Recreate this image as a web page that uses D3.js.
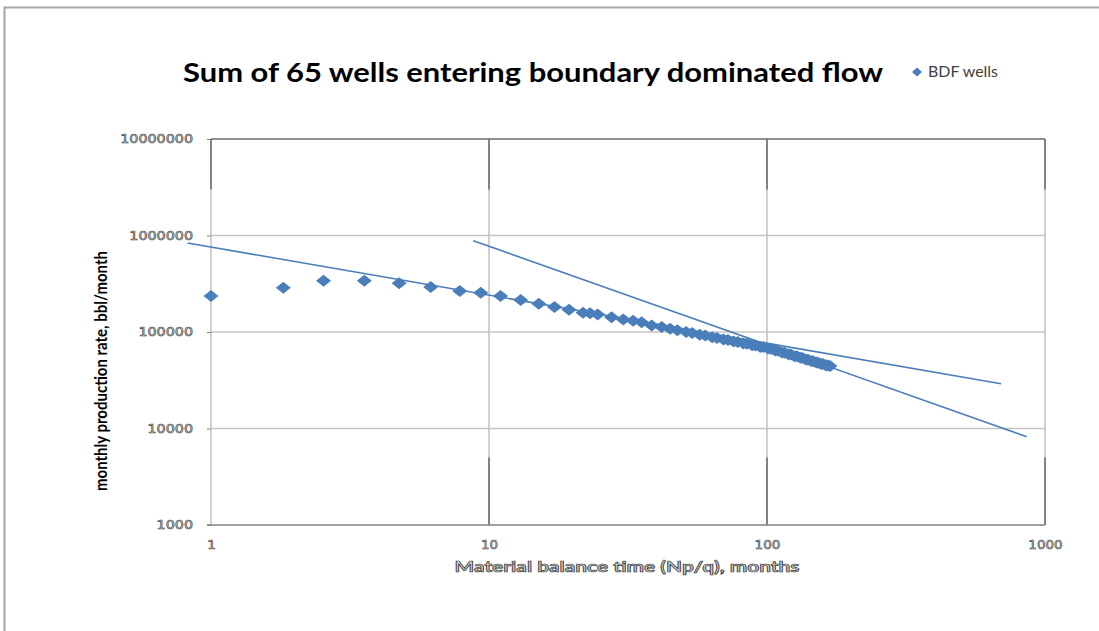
<!DOCTYPE html>
<html>
<head>
<meta charset="utf-8">
<script src="https://cdn.jsdelivr.net/npm/d3@7"></script>
<style>
  html, body { margin: 0; padding: 0; background: #fff; }
  svg { display: block; }
</style>
</head>
<body>
<svg id="chart" width="1099" height="631"></svg>
<script>
// Material balance time (Np/q), months
const mbt = [1.0, 1.82, 2.54, 3.56, 4.75, 6.17, 7.85, 9.34, 11.0, 13.0, 15.1, 17.2, 19.4,
  21.8, 23.1, 24.6, 27.6, 30.4, 33.0, 35.4, 38.5, 41.8, 44.8, 47.6, 51.2, 53.8, 57.3,
  60.0, 63.5, 66.1, 69.8, 72.4, 75.9, 78.5, 82.2, 84.7, 88.4, 90.9, 94.6, 97.1, 100.8,
  103.3, 107.0, 109.5, 113.2, 115.7, 119.4, 121.9, 125.6, 128.1, 131.8, 134.3, 138.0,
  140.5, 144.2, 146.7, 150.4, 152.9, 156.6, 159.1, 162.8, 165.3, 168.5];

// Monthly production rate, bbl/month
const rate = [236000, 288000, 340000, 340000, 320000, 293000, 266000, 255000, 236000,
  215000, 196000, 182000, 170000, 158000, 156000, 152000, 142000, 135000, 131000, 126000,
  117000, 113000, 108000, 104500, 99800, 97600, 93400, 91800, 88100, 86900, 83500, 82600,
  79500, 78900, 75800, 75600, 72900, 72500, 70100, 69900, 67600, 66800, 64300, 63800,
  61300, 60900, 58700, 58300, 56200, 55900, 54000, 53700, 51900, 51700, 50000, 49800,
  48300, 48100, 46700, 46500, 45300, 45000, 44300];

// Straight reference lines (endpoints): half slope and unit slope
const halfSlopeLine = [[0.824, 836000], [695, 29100]];
const unitSlopeLine = [[8.78, 883000], [859, 8220]];

// Axis ticks
const xTicks = [1, 10, 100, 1000];
const yTicks = [1000, 10000, 100000, 1000000, 10000000];

const title = "Sum of 65 wells entering boundary dominated flow";
const seriesName = "BDF wells";
const xTitle = "Material balance time (Np/q), months";
const yTitle = "monthly production rate, bbl/month";

const blue = "#4a7ebb";
const svg = d3.select("#chart");

// outer frame
svg.append("path")
  .attr("d", "M4.5,631 L4.5,7.5 L1099,7.5")
  .attr("fill", "none").attr("stroke", "#a6a6a6").attr("stroke-width", 2);

const x = d3.scaleLog().domain([1, 1000]).range([211, 1045]);
const y = d3.scaleLog().domain([1000, 10000000]).range([525, 139]);

// horizontal gridlines
svg.append("g").selectAll("line").data(yTicks.slice(1, -1)).join("line")
  .attr("x1", x(1)).attr("x2", x(1000))
  .attr("y1", d => y(d)).attr("y2", d => y(d))
  .attr("stroke", "#c4c4c4").attr("stroke-width", 1.6);

// vertical gridlines
svg.append("g").selectAll("line").data(xTicks).join("line")
  .attr("x1", d => x(d)).attr("x2", d => x(d))
  .attr("y1", y(1e7)).attr("y2", y(1000))
  .attr("stroke", "#c4c4c4").attr("stroke-width", 1.6);

// darker segments on the vertical lines near top and bottom
svg.append("g").selectAll("line").data(xTicks).join("line")
  .attr("x1", d => x(d)).attr("x2", d => x(d))
  .attr("y1", y(1e7)).attr("y2", y(3e6))
  .attr("stroke", "#6e6e6e").attr("stroke-width", 1.6);
svg.append("g").selectAll("line").data(xTicks.slice(1)).join("line")
  .attr("x1", d => x(d)).attr("x2", d => x(d))
  .attr("y1", y(5000)).attr("y2", y(1000))
  .attr("stroke", "#6e6e6e").attr("stroke-width", 1.6);

// plot top and bottom borders
svg.append("line").attr("x1", x(1)).attr("x2", x(1000))
  .attr("y1", y(1e7)).attr("y2", y(1e7))
  .attr("stroke", "#6a6a6a").attr("stroke-width", 1.6);
svg.append("line").attr("x1", x(1) - 4).attr("x2", x(1000))
  .attr("y1", y(1000)).attr("y2", y(1000))
  .attr("stroke", "#808080").attr("stroke-width", 1.4);

// axes (labels only)
const labelStyle = sel => sel
  .attr("font-family", "DejaVu Sans, Verdana, sans-serif")
  .attr("font-size", 11.5)
  .attr("fill", "#d8d8d8")
  .attr("stroke", "#3a3a3a")
  .attr("stroke-width", 0.55);

const yAxis = svg.append("g").attr("transform", `translate(${x(1)},0)`)
  .call(d3.axisLeft(y).tickValues(yTicks).tickFormat(d3.format("d")).tickSize(4).tickPadding(14));
yAxis.select(".domain").remove();
yAxis.selectAll(".tick line").attr("stroke", "#808080");
yAxis.selectAll(".tick text").call(labelStyle)
  .attr("textLength", d => String(d).length * 9.1).attr("lengthAdjust", "spacingAndGlyphs");

const xAxis = svg.append("g").attr("transform", `translate(0,${y(1000)})`)
  .call(d3.axisBottom(x).tickValues(xTicks).tickFormat(d3.format("d")).tickSize(0).tickPadding(16));
xAxis.select(".domain").remove();
xAxis.selectAll(".tick text").call(labelStyle)
  .attr("textLength", d => String(d).length * 8.6).attr("lengthAdjust", "spacingAndGlyphs");

// reference lines
const line = d3.line().x(d => x(d[0])).y(d => y(d[1]));
[halfSlopeLine, unitSlopeLine].forEach(seg => {
  svg.append("path").attr("d", line(seg))
    .attr("fill", "none").attr("stroke", blue).attr("stroke-width", 1.6);
});

// data markers (diamonds)
const diamond = (w, h) => `M0,${-h / 2}L${w / 2},0L0,${h / 2}L${-w / 2},0Z`;
svg.append("g").selectAll("path").data(mbt.map((t, i) => [t, rate[i]])).join("path")
  .attr("transform", d => `translate(${x(d[0])},${y(d[1])})`)
  .attr("d", diamond(15, 12))
  .attr("fill", blue);

// title
svg.append("text").attr("x", 533).attr("y", 82)
  .attr("text-anchor", "middle")
  .attr("font-family", "Lato, Open Sans, sans-serif").attr("font-weight", "bold")
  .attr("font-size", 27).attr("fill", "#000")
  .attr("textLength", 700).attr("lengthAdjust", "spacingAndGlyphs")
  .text(title);

// legend
svg.append("path").attr("transform", "translate(917,72)").attr("d", diamond(10, 9)).attr("fill", blue);
svg.append("text").attr("x", 928).attr("y", 77)
  .attr("font-family", "Lato, Open Sans, sans-serif").attr("font-size", 14.5)
  .attr("fill", "#404040")
  .attr("textLength", 70).attr("lengthAdjust", "spacingAndGlyphs")
  .text(seriesName);

// axis titles
svg.append("text").attr("x", 627).attr("y", 572)
  .attr("text-anchor", "middle")
  .attr("font-family", "Lato, Open Sans, sans-serif").attr("font-weight", "bold")
  .attr("font-size", 15).attr("fill", "#c8c8c8").attr("stroke", "#333").attr("stroke-width", 0.65)
  .attr("textLength", 345).attr("lengthAdjust", "spacingAndGlyphs")
  .text(xTitle);

svg.append("text").attr("transform", "translate(107,371) rotate(-90)")
  .attr("text-anchor", "middle")
  .attr("font-family", "Lato, Open Sans, sans-serif").attr("font-weight", "bold")
  .attr("font-size", 17).attr("fill", "#000")
  .attr("textLength", 240).attr("lengthAdjust", "spacingAndGlyphs")
  .text(yTitle);
</script>
</body>
</html>
